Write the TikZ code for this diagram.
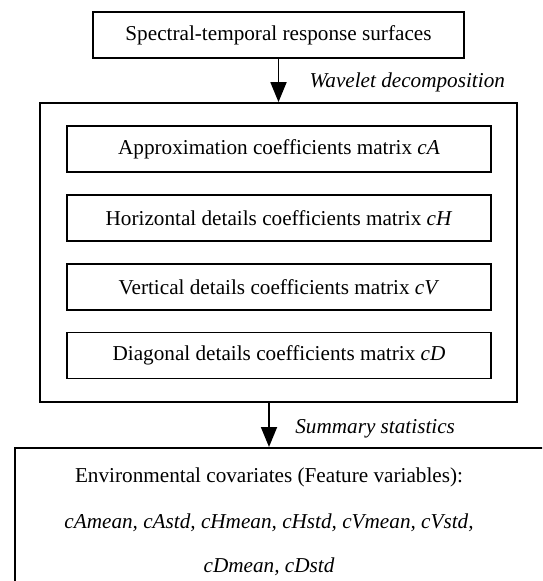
\documentclass[tikz,border=0pt]{standalone}
\usepackage{fontspec}
\setmainfont{Liberation Serif}
\usetikzlibrary{arrows.meta,positioning}

\begin{document}
\begin{tikzpicture}[x=0.5pt,y=-0.5pt,font=\fontsize{10.6}{12}\selectfont,
  box/.style={draw,line width=0.9pt,minimum height=23pt,inner sep=0pt,align=center},
  sub/.style={box,minimum width=212pt},
  note/.style={font=\fontsize{10.6}{12}\selectfont\itshape,anchor=base east},
  txt/.style={anchor=base},
  arr/.style={-{Triangle[length=10pt,width=8pt]},line width=0.9pt}]
  \useasboundingbox (0,0) rectangle (542,581);
  \clip (0,0) rectangle (542,581);
  % Input surfaces
  \node[box,minimum width=185.5pt] (stsurf) at (278.5,35) {Spectral-temporal response surfaces};
  % Wavelet decomposition
  \node[box,minimum width=238.5pt,minimum height=149.5pt] (wdec) at (278.5,252.5) {};
  \node[sub] (ca) at (279,149) {Approximation coefficients matrix \textit{cA}};
  \node[sub] (ch) at (279,218) {Horizontal details coefficients matrix \textit{cH}};
  \node[sub] (cv) at (279,287) {Vertical details coefficients matrix \textit{cV}};
  \node[sub] (cd) at (279,355.5) {Diagonal details coefficients matrix \textit{cD}};
  \draw[arr] (stsurf) -- (wdec);
  \node[note] (wlab) at (512,88) {Wavelet decomposition};
  % Feature variables
  \node[box,anchor=north west,minimum width=300pt,minimum height=100pt] (feat) at (14,447) {};
  \node[txt] (env) at (269,482) {Environmental covariates (Feature variables):};
  \node[txt,font=\fontsize{10.6}{12}\selectfont\itshape] (fv1) at (269,528) {cAmean, cAstd, cHmean, cHstd, cVmean, cVstd,};
  \node[txt,font=\fontsize{10.6}{12}\selectfont\itshape] (fv2) at (269,572) {cDmean, cDstd};
  \draw[arr] (wdec.south -| env) -- (feat.north -| env);
  \node[note] (slab) at (462,433) {Summary statistics};
\end{tikzpicture}
\end{document}
